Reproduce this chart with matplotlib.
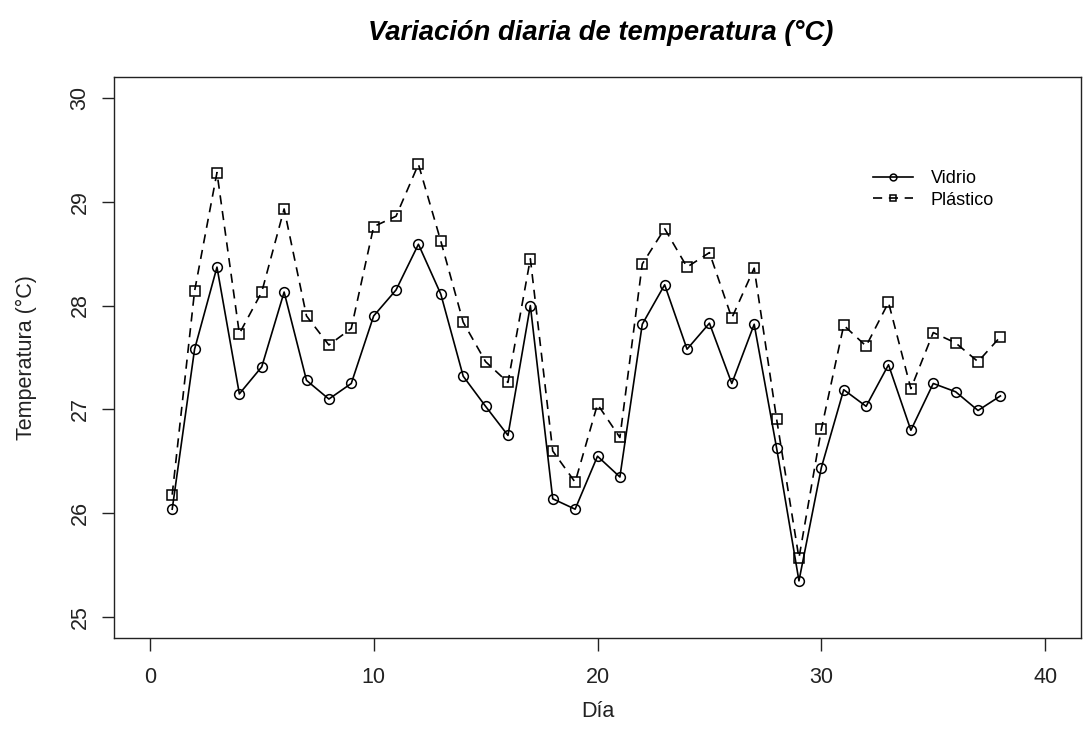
import numpy as np
import matplotlib
matplotlib.use("Agg")
import matplotlib.pyplot as plt

plt.rcParams["font.family"] = ["Liberation Sans", "DejaVu Sans"]

# Daily mean temperature per container type
dia = list(range(1, 39))
vidrio = [26.04, 27.58, 28.37, 27.15, 27.41, 28.13, 27.28, 27.10, 27.25, 27.90,
          28.15, 28.59, 28.11, 27.32, 27.03, 26.75, 28.00, 26.14, 26.04, 26.55,
          26.35, 27.82, 28.20, 27.58, 27.83, 27.25, 27.82, 26.63, 25.35, 26.44,
          27.19, 27.03, 27.43, 26.80, 27.25, 27.17, 26.99, 27.13]
plastico = [26.18, 28.14, 29.28, 27.73, 28.13, 28.93, 27.90, 27.62, 27.78, 28.76,
            28.86, 29.36, 28.62, 27.84, 27.46, 27.26, 28.45, 26.60, 26.30, 27.05,
            26.73, 28.40, 28.74, 28.37, 28.51, 27.88, 28.36, 26.91, 25.57, 26.81,
            27.81, 27.61, 28.03, 27.20, 27.74, 27.64, 27.46, 27.70]

W, H = 1083, 742
fig = plt.figure(figsize=(W / 100, H / 100), dpi=100)
ax = fig.add_axes([114 / W, 1 - 638 / H, 967 / W, 561 / H])

ax.plot(dia, vidrio, color="black", lw=1.2, ls="-",
        marker="o", ms=7, mfc="none", mec="black", mew=1.1, label="Vidrio")
ax.plot(dia, plastico, color="black", lw=1.2, ls=(0, (5.5, 4)),
        marker="s", ms=7, mfc="none", mec="black", mew=1.1, label="Plástico")

# R-style axis ranges (4% padding around 0-40 and 25-30)
ax.set_xlim(0 - 1.6, 40 + 1.6)
ax.set_ylim(25 - 0.2, 30 + 0.2)
ax.set_xticks([0, 10, 20, 30, 40])
ax.set_yticks([25, 26, 27, 28, 29, 30])

for s in ax.spines.values():
    s.set_linewidth(1.0)
    s.set_color("#222222")

ax.tick_params(axis="both", length=9, width=1.0, color="#222222",
               labelsize=15.5, labelcolor="#222222")
ax.tick_params(axis="x", pad=12)
ax.tick_params(axis="y", pad=8, labelrotation=90)
for lbl in ax.get_yticklabels():
    lbl.set_va("center")

ax.set_xlabel("Día", fontsize=15.5, color="#222222", labelpad=9)
ax.set_ylabel("Temperatura (°C)", fontsize=15.5, color="#222222", labelpad=23)

fig.text(601 / W, 1 - 33 / H, "Variación diaria de temperatura (°C)",
         ha="center", va="center", fontsize=19.7, fontweight="bold",
         fontstyle="italic")

ax.legend(loc="upper left", bbox_to_anchor=(0.785, 0.834), frameon=False,
          fontsize=13, handlelength=2.2, handletextpad=1.0,
          labelspacing=0.25, borderpad=0, borderaxespad=0, markerscale=0.7)

fig.savefig("out.png", dpi=100)
